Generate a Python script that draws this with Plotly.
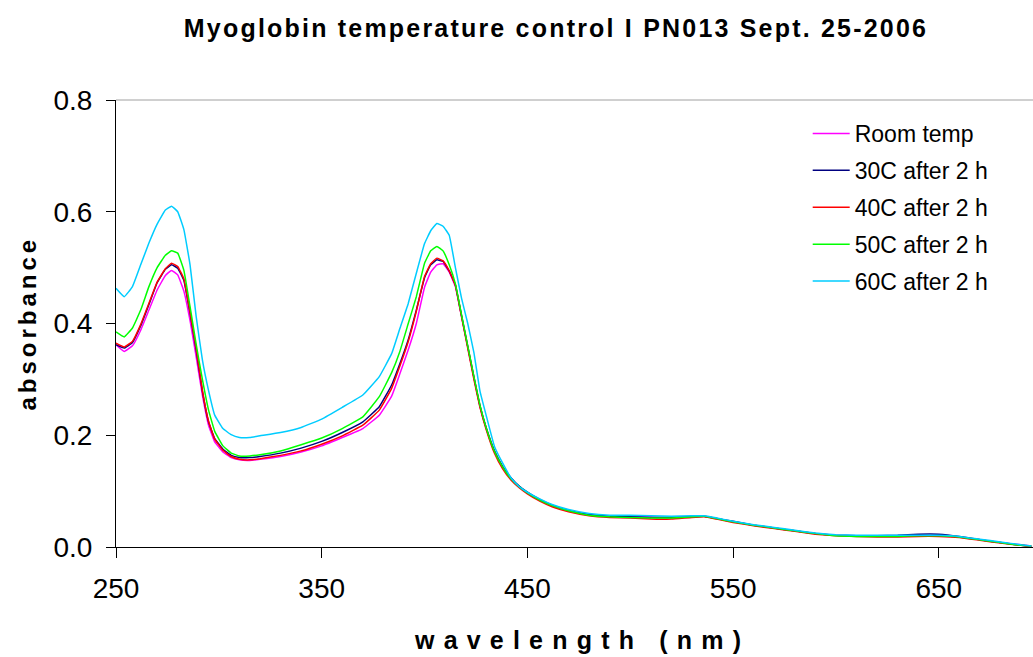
import plotly.graph_objects as go

wavelength = [250, 254, 258, 262, 266, 270, 274, 277, 280, 283,
              286, 289, 292, 295, 298, 302, 306, 310, 315, 320,
              330, 340, 350, 360, 370, 378, 384, 388, 392, 396,
              400, 403, 406, 409, 412, 415, 418, 421, 424, 427,
              430, 434, 438, 442, 446, 450, 456, 462, 470, 480,
              490, 500, 510, 520, 530, 536, 542, 550, 560, 570,
              580, 590, 600, 610, 620, 630, 640, 650, 660, 670,
              680, 690, 695]

room_temp = [0.362, 0.350, 0.360, 0.388, 0.424, 0.460, 0.486, 0.495, 0.487, 0.458,
             0.405, 0.340, 0.272, 0.218, 0.188, 0.170, 0.160, 0.156, 0.155, 0.157,
             0.162, 0.170, 0.181, 0.196, 0.212, 0.236, 0.270, 0.310, 0.352, 0.400,
             0.465, 0.492, 0.505, 0.507, 0.492, 0.466, 0.412, 0.358, 0.303, 0.251,
             0.212, 0.171, 0.143, 0.123, 0.108, 0.097, 0.084, 0.074, 0.065, 0.058,
             0.055, 0.055, 0.054, 0.053, 0.055, 0.055, 0.051, 0.045, 0.039, 0.034,
             0.029, 0.024, 0.021, 0.020, 0.020, 0.020, 0.020, 0.020, 0.018, 0.013,
             0.008, 0.004, 0.002]

c30_2h = [0.362, 0.356, 0.366, 0.396, 0.434, 0.473, 0.497, 0.505, 0.499, 0.477,
          0.418, 0.352, 0.279, 0.224, 0.194, 0.175, 0.164, 0.160, 0.160, 0.162,
          0.168, 0.177, 0.189, 0.205, 0.224, 0.251, 0.290, 0.328, 0.370, 0.424,
          0.482, 0.505, 0.514, 0.511, 0.494, 0.469, 0.414, 0.359, 0.304, 0.252,
          0.213, 0.172, 0.144, 0.124, 0.109, 0.098, 0.085, 0.075, 0.066, 0.058,
          0.055, 0.054, 0.053, 0.053, 0.054, 0.055, 0.051, 0.046, 0.039, 0.034,
          0.029, 0.024, 0.021, 0.020, 0.020, 0.021, 0.023, 0.023, 0.019, 0.013,
          0.008, 0.003, 0.001]

c40_2h = [0.365, 0.358, 0.368, 0.398, 0.436, 0.474, 0.498, 0.508, 0.502, 0.480,
          0.420, 0.355, 0.280, 0.225, 0.193, 0.173, 0.162, 0.157, 0.156, 0.158,
          0.164, 0.172, 0.184, 0.199, 0.218, 0.245, 0.284, 0.324, 0.367, 0.422,
          0.484, 0.507, 0.517, 0.512, 0.494, 0.468, 0.412, 0.356, 0.300, 0.249,
          0.210, 0.168, 0.140, 0.120, 0.106, 0.095, 0.082, 0.072, 0.063, 0.056,
          0.053, 0.052, 0.050, 0.050, 0.053, 0.054, 0.050, 0.044, 0.038, 0.033,
          0.028, 0.023, 0.020, 0.019, 0.018, 0.018, 0.019, 0.019, 0.017, 0.012,
          0.007, 0.003, 0.001]

c50_2h = [0.385, 0.376, 0.392, 0.424, 0.466, 0.500, 0.522, 0.530, 0.526, 0.495,
          0.430, 0.362, 0.300, 0.245, 0.207, 0.181, 0.168, 0.163, 0.163, 0.165,
          0.172, 0.183, 0.195, 0.212, 0.233, 0.269, 0.312, 0.350, 0.399, 0.448,
          0.508, 0.530, 0.538, 0.530, 0.505, 0.471, 0.415, 0.360, 0.305, 0.253,
          0.213, 0.171, 0.143, 0.122, 0.108, 0.097, 0.084, 0.074, 0.065, 0.057,
          0.054, 0.053, 0.052, 0.052, 0.054, 0.055, 0.051, 0.045, 0.039, 0.034,
          0.029, 0.024, 0.020, 0.019, 0.019, 0.019, 0.020, 0.020, 0.018, 0.013,
          0.008, 0.003, 0.002]

c60_2h = [0.463, 0.448, 0.466, 0.505, 0.544, 0.578, 0.603, 0.610, 0.600, 0.568,
          0.505, 0.412, 0.335, 0.280, 0.236, 0.212, 0.201, 0.196, 0.196, 0.199,
          0.205, 0.214, 0.229, 0.250, 0.272, 0.305, 0.346, 0.391, 0.435, 0.490,
          0.543, 0.566, 0.579, 0.574, 0.558, 0.500, 0.445, 0.400, 0.348, 0.278,
          0.235, 0.180, 0.150, 0.124, 0.108, 0.098, 0.086, 0.076, 0.067, 0.060,
          0.057, 0.057, 0.056, 0.055, 0.056, 0.056, 0.052, 0.046, 0.040, 0.035,
          0.030, 0.025, 0.022, 0.021, 0.021, 0.021, 0.021, 0.021, 0.019, 0.014,
          0.009, 0.004, 0.002]

series_names = ["Room temp", "30C after 2 h", "40C after 2 h", "50C after 2 h", "60C after 2 h"]
series_values = [room_temp, c30_2h, c40_2h, c50_2h, c60_2h]
series_colors = ["#FF00FF", "#000080", "#FF0000", "#00FF00", "#00CCFF"]

x_tick_values = [250, 350, 450, 550, 650]
y_tick_values = [0.0, 0.2, 0.4, 0.6, 0.8]
y_tick_labels = ["0.0", "0.2", "0.4", "0.6", "0.8"]

for v in series_values:
    assert len(v) == len(wavelength)

FONT = "Liberation Sans, Arial, sans-serif"

fig = go.Figure()
for name, vals, col in zip(series_names, series_values, series_colors):
    fig.add_trace(go.Scatter(
        x=wavelength, y=vals, name=name, mode="lines",
        line=dict(color=col, width=1.5, shape="spline", smoothing=0.3),
        legendgroup=name,
    ))

def spaced(text, px):
    return '<span style="letter-spacing:%spx">%s</span>' % (px, text)

fig.update_layout(
    width=1033, height=657,
    margin=dict(l=116, r=0, t=100, b=110),
    paper_bgcolor="white", plot_bgcolor="white",
    font=dict(family=FONT, color="black"),
    title=dict(
        text="<b>" + spaced("Myoglobin temperature control I PN013 Sept. 25-2006", 2.2) + "</b>",
        font=dict(size=25, family=FONT, color="black"),
        x=556 / 1033, xref="container", xanchor="center",
        y=1 - 28 / 657, yref="container", yanchor="middle",
    ),
    showlegend=True,
    legend=dict(
        x=(807.7 - 116) / 917, xanchor="left",
        y=(547 - 112) / 447, yanchor="top",
        font=dict(size=23, family=FONT, color="black"),
        itemwidth=37, tracegroupgap=4,
        bgcolor="rgba(0,0,0,0)", borderwidth=0,
    ),
    xaxis=dict(
        range=[250, 695.8], tickmode="array", tickvals=x_tick_values,
        showgrid=False, zeroline=False, showline=True, linecolor="black", linewidth=1,
        ticks="outside", ticklen=10, tickcolor="black", tickwidth=1,
        tickfont=dict(size=28, family=FONT, color="black"),
        ticklabelstandoff=6,
    ),
    yaxis=dict(
        range=[0, 0.8], tickmode="array", tickvals=y_tick_values, ticktext=y_tick_labels,
        showgrid=False, zeroline=False, showline=True, linecolor="black", linewidth=1,
        ticks="outside", ticklen=9, tickcolor="black", tickwidth=1,
        tickfont=dict(size=28, family=FONT, color="black"),
        ticklabelstandoff=8,
    ),
    annotations=[
        dict(text="<b>" + spaced("wavelength (nm)", 9.2) + "</b>",
             xref="paper", yref="paper", x=(582 - 116) / 917, y=-(640 - 547) / 447,
             xanchor="center", yanchor="middle", showarrow=False,
             font=dict(size=25, family=FONT, color="black")),
        dict(text="<b>" + spaced("absorbance", 4) + "</b>",
             xref="paper", yref="paper", x=(27 - 116) / 917, y=0.5,
             xanchor="center", yanchor="middle", showarrow=False, textangle=-90,
             font=dict(size=24, family=FONT, color="black")),
    ],
    shapes=[
        dict(type="line", xref="paper", yref="paper", x0=0, x1=1, y0=1, y1=1,
             line=dict(color="#A0A0A0", width=1)),
    ],
)

fig.write_html("out.html")
